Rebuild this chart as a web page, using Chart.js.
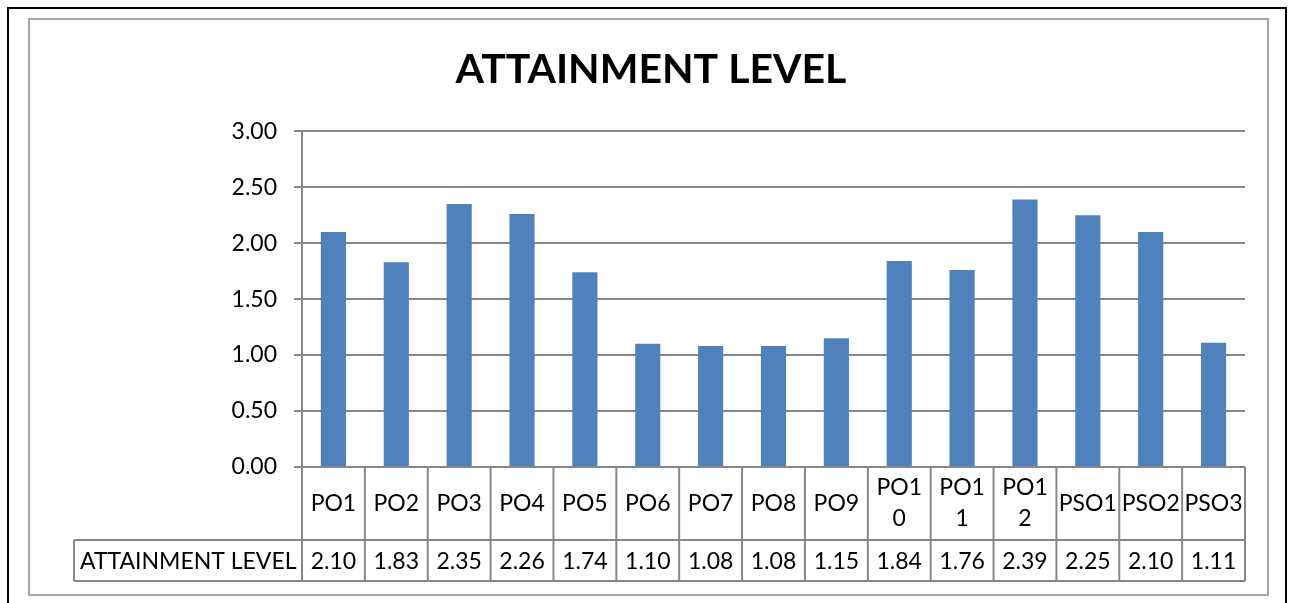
<!DOCTYPE html>
<html>
<head>
<meta charset="utf-8">
<title>Attainment Level</title>
<script src="https://cdn.jsdelivr.net/npm/chart.js@4"></script>
<style>
  html, body { margin: 0; padding: 0; background: #fff; }
  #wrap { width: 1292px; height: 603px; position: relative; }
</style>
</head>
<body>
<div id="wrap"><canvas id="chart"></canvas></div>
<script>
// chart data
const categories = ['PO1', 'PO2', 'PO3', 'PO4', 'PO5', 'PO6', 'PO7', 'PO8', 'PO9',
                    ['PO1', '0'], ['PO1', '1'], ['PO1', '2'], 'PSO1', 'PSO2', 'PSO3'];
const seriesName = 'ATTAINMENT LEVEL';
const attainment = [2.10, 1.83, 2.35, 2.26, 1.74, 1.10, 1.08, 1.08, 1.15, 1.84, 1.76, 2.39, 2.25, 2.10, 1.11];
const yTicks = [0, 0.5, 1, 1.5, 2, 2.5, 3];

const FONT = 'Lato, "Open Sans", sans-serif';
const GRID = '#878787';

// frame + data table under the x axis, like Excel's "show data table"
const tablePlugin = {
    id: 'dataTable',
    beforeDraw(chart) {
        const ctx = chart.ctx;
        ctx.save();
        ctx.fillStyle = '#fff';
        ctx.fillRect(0, 0, chart.width, chart.height);
        ctx.strokeStyle = '#000';
        ctx.lineWidth = 2;
        ctx.strokeRect(8, 8, 1278, 620);
        ctx.strokeStyle = '#a6a6a6';
        ctx.strokeRect(29, 19, 1239, 576);
        ctx.restore();
    },
    afterDraw(chart) {
        const { ctx, chartArea: a, scales: { x } } = chart;
        const colW = (a.right - a.left) / categories.length;
        const top = a.bottom, mid = a.bottom + 73, bot = mid + 41;
        const left = 74;

        ctx.save();
        ctx.strokeStyle = GRID;
        ctx.lineWidth = 2;
        const line = (x1, y1, x2, y2) => {
            ctx.beginPath(); ctx.moveTo(x1, y1); ctx.lineTo(x2, y2); ctx.stroke();
        };
        line(a.left, top, a.right, top);
        line(left, mid, a.right, mid);
        line(left, bot, a.right, bot);
        line(left, mid, left, bot);
        categories.forEach((c, i) => {
            line(x.getPixelForValue(i) - colW / 2, top, x.getPixelForValue(i) - colW / 2, bot);
        });
        line(a.right, top, a.right, bot);

        ctx.fillStyle = '#000';
        ctx.font = '23px ' + FONT;
        ctx.textBaseline = 'middle';
        ctx.textAlign = 'center';
        categories.forEach((c, i) => {
            const cx = x.getPixelForValue(i);
            const lines = Array.isArray(c) ? c : [c];
            const lh = 31;
            const y0 = (top + mid) / 2 - (lines.length - 1) * lh / 2;
            lines.forEach((t, k) => ctx.fillText(t, cx, y0 + k * lh));
            ctx.fillText(attainment[i].toFixed(2), cx, (mid + bot) / 2 + 1);
        });
        ctx.textAlign = 'left';
        ctx.fillText(seriesName, left + 6, (mid + bot) / 2 + 1);
        ctx.restore();
    }
};

new Chart(document.getElementById('chart'), {
    type: 'bar',
    data: {
        labels: categories,
        datasets: [{
            label: seriesName,
            data: attainment,
            backgroundColor: '#4f81bd',
            barPercentage: 0.4,
            categoryPercentage: 1.0
        }]
    },
    options: {
        responsive: true,
        maintainAspectRatio: false,
        animation: false,
        layout: { padding: { left: 57, right: 47, top: 0, bottom: 136 } },
        plugins: {
            legend: { display: false },
            tooltip: { enabled: false },
            title: {
                display: true,
                text: 'ATTAINMENT LEVEL',
                color: '#000',
                font: { family: FONT, size: 41, weight: 'bold', lineHeight: 1.2 },
                padding: { top: 45, bottom: 37 }
            }
        },
        scales: {
            x: { display: false },
            y: {
                min: 0,
                max: 3,
                afterFit(scale) { scale.width = 245; },
                afterBuildTicks(scale) { scale.ticks = yTicks.map(v => ({ value: v })); },
                ticks: {
                    color: '#000',
                    padding: 17,
                    font: { family: FONT, size: 23 },
                    callback: v => Number(v).toFixed(2)
                },
                grid: { color: GRID, lineWidth: 2, tickLength: 8 },
                border: { color: GRID, width: 2 }
            }
        }
    },
    plugins: [tablePlugin]
});
</script>
</body>
</html>
